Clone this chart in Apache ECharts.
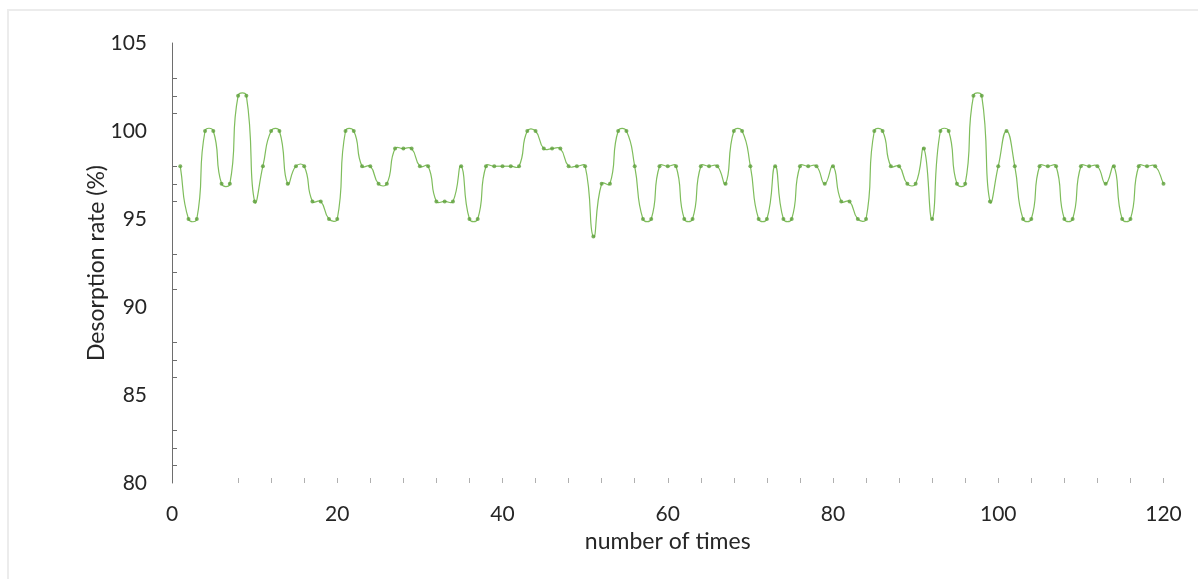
<!DOCTYPE html>
<html>
<head>
<meta charset="utf-8">
<script src="https://cdn.jsdelivr.net/npm/echarts@6/dist/echarts.min.js"></script>
<style>
html,body{margin:0;padding:0;background:#fff;}
#frame{position:absolute;left:7px;top:9px;width:1200px;height:600px;border-left:2px solid #ececec;border-top:2px solid #ececec;}
#chart{position:absolute;left:0;top:0;width:1198px;height:579px;}
</style>
</head>
<body>
<div id="frame"></div>
<div id="chart"></div>
<script>
const times = [];
for (let i = 1; i <= 120; i++) times.push(i);
const desorptionRate = [
  98, 95, 95, 100, 100, 97, 97, 102, 102, 96,
  98, 100, 100, 97, 98, 98, 96, 96, 95, 95,
  100, 100, 98, 98, 97, 97, 99, 99, 99, 98,
  98, 96, 96, 96, 98, 95, 95, 98, 98, 98,
  98, 98, 100, 100, 99, 99, 99, 98, 98, 98,
  94, 97, 97, 100, 100, 98, 95, 95, 98, 98,
  98, 95, 95, 98, 98, 98, 97, 100, 100, 98,
  95, 95, 98, 95, 95, 98, 98, 98, 97, 98,
  96, 96, 95, 95, 100, 100, 98, 98, 97, 97,
  99, 95, 100, 100, 97, 97, 102, 102, 96, 98,
  100, 98, 95, 95, 98, 98, 98, 95, 95, 98,
  98, 98, 97, 98, 95, 95, 98, 98, 98, 97
];
const xTickValues = [8, 12, 16, 20, 24, 28, 32, 36, 40, 44, 48, 52, 56, 60, 64, 68, 72, 76, 80, 84, 88, 92, 96, 100, 104, 108, 112, 116, 120];
const yTickValues = [81, 82, 83, 86, 87, 88, 91, 92, 93, 96, 97, 98, 101, 102, 103];

const points = times.map((t, i) => [t, desorptionRate[i]]);
const font = 'Lato, "Open Sans", sans-serif';
const LINE_COLOR = '#7fbd5c';
const SMOOTH = 0.5;

// Spreadsheet-style smoothed segment (no overshoot clamping), drawn via the axes' own scales.
function renderSegment(params, api) {
  const i = params.dataIndexInside;
  const n = params.dataInsideLength;
  if (i >= n - 1) return null;
  const pt = (k) => {
    k = Math.max(0, Math.min(n - 1, k));
    return api.coord([api.value(0, k), api.value(1, k)]);
  };
  const p0 = pt(i - 1), p1 = pt(i), p2 = pt(i + 1), p3 = pt(i + 2);
  const d = (a, b) => Math.hypot(b[0] - a[0], b[1] - a[1]);
  const d01 = d(p0, p1), d12 = d(p1, p2), d23 = d(p2, p3);
  const r1 = (d01 + d12) > 0 ? d12 / (d01 + d12) : 0.5;
  const r2 = (d12 + d23) > 0 ? d12 / (d12 + d23) : 0.5;
  const c1 = [p1[0] + (p2[0] - p0[0]) * SMOOTH * r1, p1[1] + (p2[1] - p0[1]) * SMOOTH * r1];
  const c2 = [p2[0] - (p3[0] - p1[0]) * SMOOTH * r2, p2[1] - (p3[1] - p1[1]) * SMOOTH * r2];
  return {
    type: 'bezierCurve',
    shape: {x1: p1[0], y1: p1[1], x2: p2[0], y2: p2[1], cpx1: c1[0], cpy1: c1[1], cpx2: c2[0], cpy2: c2[1]},
    style: {stroke: LINE_COLOR, lineWidth: 1.2, fill: null}
  };
}

const chart = echarts.init(document.getElementById('chart'), null, {renderer: 'canvas'});
chart.setOption({
  animation: false,
  backgroundColor: 'transparent',
  grid: {left: 172, right: 34.5, top: 43, bottom: 96, outerBoundsMode: 'none'},
  xAxis: {
    type: 'value', min: 0, max: 120, interval: 20,
    name: 'number of times', nameLocation: 'middle', nameGap: 41,
    nameTextStyle: {fontFamily: font, fontSize: 23, color: '#262626'},
    axisLine: {show: false},
    axisTick: {show: true, inside: true, length: 5, customValues: xTickValues, lineStyle: {color: '#b0b0b0', width: 1}},
    axisLabel: {margin: 21, fontFamily: font, fontSize: 21, color: '#262626'},
    splitLine: {show: false}
  },
  yAxis: {
    type: 'value', min: 80, max: 105, interval: 5,
    name: 'Desorption rate (%)', nameLocation: 'middle', nameGap: 64, nameMoveOverlap: false,
    nameTextStyle: {fontFamily: font, fontSize: 23, color: '#262626'},
    axisLine: {show: true, lineStyle: {color: '#6e6e6e', width: 1}},
    axisTick: {show: true, inside: true, length: 5, customValues: yTickValues, lineStyle: {color: '#6e6e6e', width: 1}},
    axisLabel: {margin: 25, fontFamily: font, fontSize: 21, color: '#262626'},
    splitLine: {show: false}
  },
  series: [
    {
      type: 'custom',
      name: 'curve',
      data: points,
      renderItem: renderSegment,
      encode: {x: 0, y: 1},
      clip: false,
      z: 2
    },
    {
      type: 'scatter',
      name: 'points',
      data: points,
      symbol: 'circle',
      symbolSize: 4,
      itemStyle: {color: '#5fa03c'},
      z: 3
    }
  ]
});
</script>
</body>
</html>
